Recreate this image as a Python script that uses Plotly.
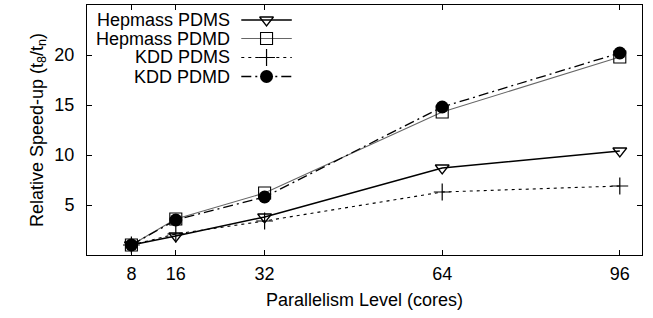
import plotly.graph_objects as go

cores = [8, 16, 32, 64, 96]
hep_pdms = [1.0, 1.9, 3.8, 8.7, 10.4]
hep_pdmd = [1.0, 3.6, 6.2, 14.3, 19.8]
kdd_pdms = [1.0, 2.1, 3.4, 6.3, 6.9]
kdd_pdmd = [1.0, 3.5, 5.8, 14.8, 20.2]

x_ticks = [8, 16, 32, 64, 96]
y_ticks = [5, 10, 15, 20]

names = ["Hepmass PDMS", "Hepmass PDMD", "KDD PDMS", "KDD PDMD"]
series = [hep_pdms, hep_pdmd, kdd_pdms, kdd_pdmd]
styles = [
    dict(line=dict(color="black", width=1.5, dash="solid"),
         marker=dict(symbol="triangle-down-open", size=12, color="black", line=dict(width=1.3))),
    dict(line=dict(color="#666666", width=1.1, dash="solid"),
         marker=dict(symbol="square-open", size=12, color="black", line=dict(width=1.1))),
    dict(line=dict(color="black", width=1.1, dash="3px,4px"),
         marker=dict(symbol="cross-thin-open", size=12, color="black", line=dict(width=1.2))),
    dict(line=dict(color="black", width=1.3, dash="10px,4px,2px,4px"),
         marker=dict(symbol="circle", size=13, color="black", line=dict(width=0))),
]

FONT = "Liberation Sans, Arial, Helvetica"

fig = go.Figure()
for n, s, st in zip(names, series, styles):
    fig.add_trace(go.Scatter(x=cores, y=s, mode="lines+markers", name=n,
                             line=st["line"], marker=st["marker"], showlegend=False))

# custom legend (text right, sample on right) on an overlay axis
leg_y = [0.94, 0.866, 0.79, 0.714]
for n, st, yy in zip(names, styles, leg_y):
    fig.add_trace(go.Scatter(x=[0.278, 0.369], y=[yy, yy], mode="lines", line=st["line"],
                             xaxis="x2", yaxis="y2", showlegend=False, hoverinfo="skip"))
    fig.add_trace(go.Scatter(x=[0.3235], y=[yy], mode="markers", marker=st["marker"],
                             xaxis="x2", yaxis="y2", showlegend=False, hoverinfo="skip"))
    fig.add_annotation(x=0.262, y=yy, xref="paper", yref="paper", text=n, showarrow=False,
                       xanchor="right", yanchor="middle",
                       font=dict(family=FONT, size=18, color="black"))

axis_common = dict(showline=True, linecolor="black", linewidth=1, mirror="allticks",
                   ticks="inside", ticklen=5, tickcolor="black", showgrid=False, zeroline=False,
                   automargin=False,
                   tickfont=dict(family=FONT, size=18, color="black"))

fig.update_layout(
    width=653, height=318,
    margin=dict(l=87, r=11, t=5, b=63),
    paper_bgcolor="white", plot_bgcolor="white",
    font=dict(family=FONT, size=18, color="black"),
    xaxis=dict(range=[0, 100], tickvals=x_ticks, ticklabelstandoff=2,
               title=dict(text="Parallelism Level (cores)", standoff=10,
                          font=dict(size=18)), **axis_common),
    yaxis=dict(range=[0, 25], tickvals=y_ticks, ticklabelstandoff=8,
               title=dict(text="Relative Speed-up (t<sub>8</sub>/t<sub>n</sub>)", standoff=6,
                          font=dict(size=18)), **axis_common),
    xaxis2=dict(range=[0, 1], overlaying="x", visible=False, fixedrange=True),
    yaxis2=dict(range=[0, 1], overlaying="y", visible=False, fixedrange=True),
)

fig.write_html("out.html", config={"displayModeBar": False},
               post_script="document.body.style.margin='0';document.body.style.overflow='hidden';")
